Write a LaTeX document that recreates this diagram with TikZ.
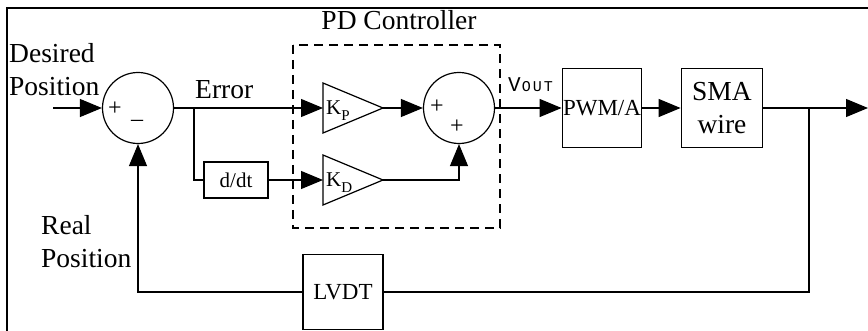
\documentclass[tikz,border=0pt]{standalone}
\usepackage{fontspec}
\setmainfont{Liberation Serif}
\setmonofont{Liberation Mono}
\usetikzlibrary{arrows.meta}

\begin{document}
\begin{tikzpicture}[x=1pt,y=-1pt,
  sig/.style={line width=1.2pt,-{Triangle[length=22pt,width=18pt]}},
  wire/.style={line width=1.2pt},
  blk/.style={draw,line width=1.8pt,inner sep=0pt},
  sum/.style={draw,circle,line width=1.2pt,minimum size=71pt,inner sep=0pt},
  lbl/.style={font=\fontsize{27.5}{33}\selectfont,inner sep=0pt},
  sml/.style={font=\fontsize{24}{24}\selectfont,inner sep=0pt}]
\useasboundingbox (0,0) rectangle (868,331);
\draw[line width=2pt] (7,331)--(7,8)--(868,8);

% summing points
\node[sum] (s1) at (138,108) {};
\node[sum] (s2) at (459,108) {};
\node[sml] (s1p) at (115,109) {+};
\node[sml] (s1m) at (137,123) {--};
\node[sml] (s2p) at (437,107) {+};
\node[sml] (s2q) at (457,127) {+};

% blocks
\node[blk,minimum width=64pt,minimum height=36pt,font=\fontsize{21}{21}\selectfont] (ddt) at (236,180) {d/dt};
\node[blk,font=\fontsize{23}{23}\selectfont,minimum width=79pt,minimum height=79pt] (pwm) at (602,108) {PWM/A};
\node[blk,lbl,minimum width=81pt,minimum height=79pt,align=center] (sma) at (722,108) {SMA\\wire};
\node[blk,minimum width=80pt,minimum height=75pt,font=\fontsize{23}{23}\selectfont] (lvdt) at (343,292) {LVDT};

% gains
\draw[wire] (323,83)--(383,108)--(323,133)--cycle;
\draw[wire] (323,155)--(383,180)--(323,205)--cycle;
\coordinate (kpin) at (323,108); \coordinate (kpout) at (383,108);
\coordinate (kdin) at (323,180); \coordinate (kdout) at (383,180);
\node[anchor=base west,inner sep=0pt] (kp) at (326,115) {\fontsize{21}{21}\selectfont K\raisebox{-6pt}{\fontsize{15}{15}\selectfont P}};
\node[anchor=base west,inner sep=0pt] (kd) at (326,187) {\fontsize{21}{21}\selectfont K\raisebox{-6pt}{\fontsize{15}{15}\selectfont D}};

% PD controller frame
\draw[line width=1.8pt,dash pattern=on 9pt off 6pt] (293,45) rectangle (500,228);
\node[lbl,anchor=base] (pd) at (399,30) {PD Controller};

% labels
\node[lbl,anchor=west,align=left] (des) at (9,70) {Desired\\Position};
\node[lbl,anchor=west,align=left] (real) at (41,242) {Real\\Position};
\node[lbl,anchor=base west] (err) at (195,99) {Error};
\node[anchor=base west,inner sep=0pt] (vout) at (508,92) {\ttfamily\fontsize{21}{21}\selectfont V\hspace{1pt}\fontsize{15}{15}\selectfont O\hspace{2pt}U\hspace{2pt}T};

% signals
\coordinate (in) at (53,108);
\coordinate (split) at (194,108);
\coordinate (out) at (868,108);
\coordinate (tap) at (809,108);
\draw[sig] (in) -- (s1);
\draw[sig] (s1) -- (kpin);
\draw[wire] (split) |- (ddt);
\draw[sig] (ddt) -- (kdin);
\draw[sig] (kpout) -- (s2);
\draw[sig] (kdout) -| (s2);
\draw[sig] (s2) -- (pwm);
\draw[sig] (pwm) -- (sma);
\draw[sig] (sma) -- (out);
\draw[wire] (tap) |- (lvdt);
\draw[sig] (lvdt) -| (s1);
\end{tikzpicture}
\end{document}
